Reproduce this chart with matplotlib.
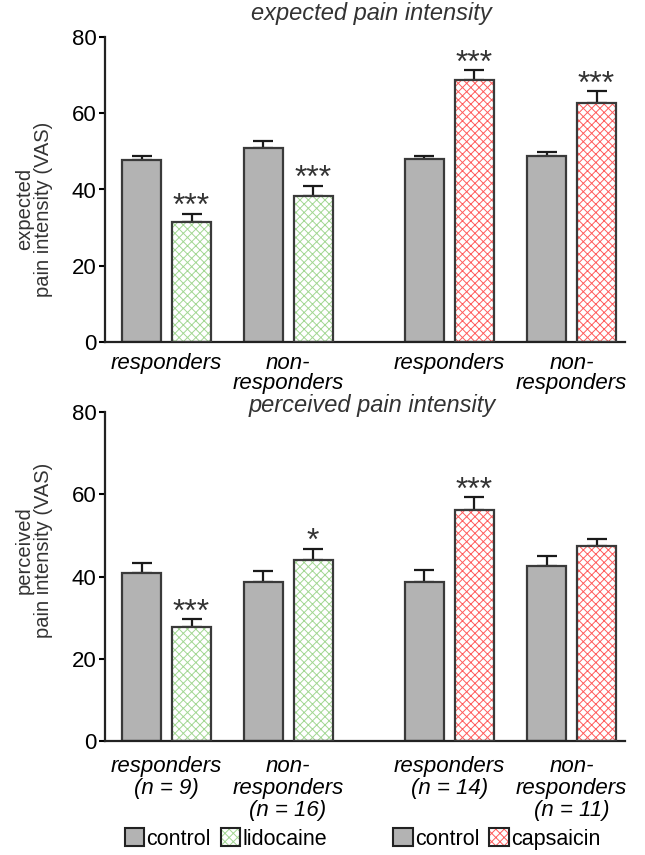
import numpy as np
import matplotlib.pyplot as plt
from matplotlib.patches import Patch
from matplotlib.legend_handler import HandlerTuple

plt.rcParams['font.family'] = ['Liberation Sans', 'DejaVu Sans']
plt.rcParams['hatch.linewidth'] = 0.7

# Datos (VAS)
grupos_sup = ['responders', 'non-\nresponders', 'responders', 'non-\nresponders']
grupos_inf = ['responders\n(n = 9)', 'non-\nresponders\n(n = 16)',
              'responders\n(n = 14)', 'non-\nresponders\n(n = 11)']

esperado_control = [47.7, 50.9, 47.9, 48.7]
esperado_control_err = [1.1, 1.9, 1.0, 1.1]
esperado_droga = [31.5, 38.4, 68.7, 62.8]
esperado_droga_err = [2.2, 2.5, 2.6, 3.0]
esperado_sig = ['***', '***', '***', '***']

percibido_control = [40.8, 38.6, 38.7, 42.6]
percibido_control_err = [2.5, 2.8, 3.0, 2.3]
percibido_droga = [27.8, 44.0, 56.1, 47.4]
percibido_droga_err = [1.8, 2.8, 3.2, 1.8]
percibido_sig = ['***', '*', '***', '']

drogas = ['lidocaine', 'lidocaine', 'capsaicin', 'capsaicin']

gris = '#b3b3b3'
borde = '#3a3a3a'
colores_hatch = {'lidocaine': '#a3d793', 'capsaicin': '#ff5c5c'}

centros = np.array([0, 2.43, 5.66, 8.1])
ancho = 0.78


def graficar_panel(ax, control, control_err, droga, droga_err, sig, etiquetas, titulo, titulo_y,
                   ylabel, ylab_y, pad_x, interlineado):
    x_c = centros - 0.5
    x_d = centros + 0.5
    ax.bar(x_c, control, ancho, color=gris, edgecolor=borde, linewidth=1.6, zorder=2)
    for xi, v, d in zip(x_d, droga, drogas):
        ax.bar(xi, v, ancho, color='white', edgecolor=colores_hatch[d], hatch='xxxx', linewidth=0, zorder=2)
    ax.bar(x_d, droga, ancho, color='none', edgecolor=borde, linewidth=1.6, zorder=3)
    for xs, vals, errs in [(x_c, control, control_err), (x_d, droga, droga_err)]:
        ax.errorbar(xs, vals, yerr=[np.zeros(len(vals)), errs], fmt='none', ecolor='#1a1a1a',
                    elinewidth=1.6, capsize=7.5, capthick=1.6, zorder=1)
    for xi, v, e, s in zip(x_d, droga, droga_err, sig):
        if s:
            ax.annotate(s, xy=(xi, v + e), xytext=(0, -6), textcoords='offset points',
                        ha='center', va='bottom', fontsize=23, color='#333333')
    ax.set_ylim(0, 80)
    ax.set_yticks([0, 20, 40, 60, 80])
    ax.set_xlim(-1.23, 9.17)
    ax.set_xticks(centros)
    ax.set_xticklabels(etiquetas, fontstyle='italic', fontsize=16, linespacing=interlineado)
    ax.tick_params(axis='x', length=0, pad=pad_x)
    ax.tick_params(axis='y', length=4, width=1.5, labelsize=16, pad=2)
    for lado in ['top', 'right']:
        ax.spines[lado].set_visible(False)
    for lado in ['left', 'bottom']:
        ax.spines[lado].set_linewidth(1.6)
        ax.spines[lado].set_color('#222222')
    ax.text(0.513, titulo_y, titulo, transform=ax.transAxes, ha='center', va='center',
            fontstyle='italic', fontsize=17, color='#333333')
    ax.set_ylabel(ylabel, fontsize=14.5, color='#333333', linespacing=1.0)
    ax.yaxis.set_label_coords(-0.10, ylab_y)


fig = plt.figure(figsize=(6.45, 8.55), dpi=100)
ax1 = fig.add_axes([105 / 645, 1 - 342 / 855, 520 / 645, 305 / 855])
ax2 = fig.add_axes([105 / 645, 1 - 741 / 855, 520 / 645, 329 / 855])

graficar_panel(ax1, esperado_control, esperado_control_err, esperado_droga, esperado_droga_err,
               esperado_sig, grupos_sup, 'expected pain intensity', 1.077,
               'expected\npain intensity (VAS)', 0.435, 8, 0.95)
graficar_panel(ax2, percibido_control, percibido_control_err, percibido_droga, percibido_droga_err,
               percibido_sig, grupos_inf, 'perceived pain intensity', 1.02,
               'perceived\npain intensity (VAS)', 0.58, 11, 1.05)

# Leyendas
def parche_hatch(color):
    return (Patch(facecolor='white', edgecolor=color, hatch='xxxx', linewidth=0),
            Patch(facecolor='none', edgecolor='#222222', linewidth=1.5))

for nombre, cx in [('lidocaine', 226 / 645), ('capsaicin', 497 / 645)]:
    handles = [Patch(facecolor=gris, edgecolor='#222222', linewidth=1.5), parche_hatch(colores_hatch[nombre])]
    fig.legend(handles, ['control', nombre], loc='center', bbox_to_anchor=(cx, 1 - 839 / 855),
               ncol=2, frameon=False, fontsize=15.5, handlelength=0.9, handleheight=0.9,
               handletextpad=0.12, columnspacing=0.45, borderaxespad=0,
               handler_map={tuple: HandlerTuple(ndivide=1, pad=0)})

fig.savefig('out.png', dpi=100)
